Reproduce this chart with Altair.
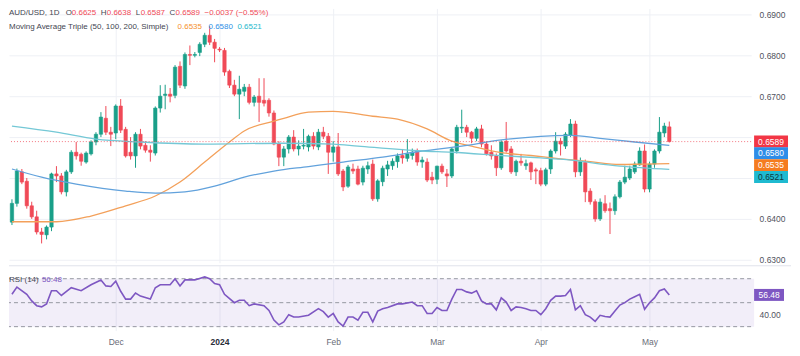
import altair as alt
import pandas as pd

# ---------------- data ----------------
bar_index = list(range(134))  # trading days 2023-11-02 .. 2024-05-07

opens = [0.6392, 0.6438, 0.6515, 0.6492, 0.6432, 0.6405, 0.6368, 0.6361, 0.6380, 0.6510,
         0.6505, 0.6466, 0.6515, 0.6563, 0.6558, 0.6539, 0.6559, 0.6588, 0.6607, 0.6646,
         0.6612, 0.6610, 0.6676, 0.6619, 0.6563, 0.6554, 0.6607, 0.6580, 0.6568, 0.6561,
         0.6671, 0.6702, 0.6705, 0.6702, 0.6773, 0.6725, 0.6802, 0.6800, 0.6807, 0.6827,
         0.6849, 0.6832, 0.6815, 0.6812, 0.6761, 0.6727, 0.6705, 0.6712, 0.6722, 0.6685,
         0.6700, 0.6690, 0.6690, 0.6659, 0.6583, 0.6551, 0.6571, 0.6600, 0.6571, 0.6578,
         0.6576, 0.6602, 0.6576, 0.6612, 0.6602, 0.6563, 0.6576, 0.6517, 0.6480, 0.6522,
         0.6522, 0.6490, 0.6522, 0.6534, 0.6449, 0.6491, 0.6522, 0.6530, 0.6540, 0.6555,
         0.6548, 0.6555, 0.6566, 0.6539, 0.6539, 0.6502, 0.6497, 0.6529, 0.6510, 0.6505,
         0.6566, 0.6622, 0.6624, 0.6612, 0.6597, 0.6620, 0.6583, 0.6563, 0.6554, 0.6525,
         0.6590, 0.6571, 0.6515, 0.6541, 0.6530, 0.6537, 0.6520, 0.6518, 0.6485, 0.6522,
         0.6566, 0.6590, 0.6578, 0.6605, 0.6632, 0.6515, 0.6538, 0.6468, 0.6442, 0.6400,
         0.6437, 0.6425, 0.6420, 0.6454, 0.6490, 0.6500, 0.6515, 0.6532, 0.6566, 0.6473,
         0.6534, 0.6566, 0.6610, 0.6625]
highs = [0.6448, 0.6523, 0.6522, 0.6500, 0.6442, 0.6420, 0.6378, 0.6384, 0.6513, 0.6529,
         0.6512, 0.6520, 0.6568, 0.6588, 0.6562, 0.6565, 0.6592, 0.6612, 0.6661, 0.6676,
         0.6625, 0.6680, 0.6693, 0.6625, 0.6600, 0.6612, 0.6620, 0.6590, 0.6580, 0.6675,
         0.6727, 0.6728, 0.6720, 0.6776, 0.6785, 0.6807, 0.6824, 0.6808, 0.6832, 0.6855,
         0.6871, 0.6840, 0.6820, 0.6818, 0.6765, 0.6740, 0.6750, 0.6730, 0.6730, 0.6703,
         0.6744, 0.6744, 0.6695, 0.6665, 0.6590, 0.6578, 0.6605, 0.6617, 0.6592, 0.6620,
         0.6606, 0.6612, 0.6620, 0.6625, 0.6610, 0.6590, 0.6610, 0.6522, 0.6532, 0.6535,
         0.6530, 0.6530, 0.6540, 0.6545, 0.6497, 0.6530, 0.6542, 0.6548, 0.6560, 0.6571,
         0.6595, 0.6572, 0.6572, 0.6552, 0.6548, 0.6515, 0.6530, 0.6535, 0.6522, 0.6575,
         0.6630, 0.6667, 0.6630, 0.6615, 0.6625, 0.6630, 0.6590, 0.6580, 0.6560, 0.6592,
         0.6637, 0.6578, 0.6545, 0.6559, 0.6545, 0.6540, 0.6525, 0.6525, 0.6525, 0.6570,
         0.6612, 0.6598, 0.6612, 0.6644, 0.6640, 0.6550, 0.6545, 0.6475, 0.6448, 0.6450,
         0.6458, 0.6440, 0.6460, 0.6495, 0.6530, 0.6530, 0.6540, 0.6575, 0.6582, 0.6540,
         0.6570, 0.6649, 0.6635, 0.6638]
lows = [0.6385, 0.6430, 0.6485, 0.6425, 0.6400, 0.6362, 0.6340, 0.6350, 0.6370, 0.6490,
        0.6460, 0.6455, 0.6510, 0.6545, 0.6530, 0.6535, 0.6555, 0.6580, 0.6600, 0.6605,
        0.6578, 0.6595, 0.6610, 0.6550, 0.6545, 0.6525, 0.6570, 0.6562, 0.6540, 0.6555,
        0.6660, 0.6668, 0.6685, 0.6695, 0.6720, 0.6718, 0.6776, 0.6795, 0.6798, 0.6820,
        0.6825, 0.6783, 0.6808, 0.6750, 0.6720, 0.6700, 0.6644, 0.6700, 0.6680, 0.6675,
        0.6637, 0.6675, 0.6650, 0.6580, 0.6529, 0.6529, 0.6560, 0.6565, 0.6555, 0.6570,
        0.6565, 0.6570, 0.6568, 0.6595, 0.6510, 0.6540, 0.6505, 0.6468, 0.6476, 0.6510,
        0.6482, 0.6482, 0.6510, 0.6444, 0.6442, 0.6480, 0.6505, 0.6520, 0.6525, 0.6535,
        0.6540, 0.6545, 0.6530, 0.6525, 0.6490, 0.6485, 0.6485, 0.6510, 0.6478, 0.6500,
        0.6560, 0.6610, 0.6600, 0.6585, 0.6590, 0.6575, 0.6555, 0.6545, 0.6505, 0.6520,
        0.6562, 0.6510, 0.6505, 0.6530, 0.6520, 0.6495, 0.6485, 0.6480, 0.6480, 0.6510,
        0.6560, 0.6555, 0.6571, 0.6600, 0.6502, 0.6505, 0.6441, 0.6435, 0.6393, 0.6395,
        0.6415, 0.6363, 0.6410, 0.6450, 0.6485, 0.6495, 0.6510, 0.6530, 0.6465, 0.6465,
        0.6525, 0.6560, 0.6600, 0.6587]
closes = [0.6438, 0.6517, 0.6490, 0.6432, 0.6405, 0.6368, 0.6362, 0.6380, 0.6510, 0.6505,
          0.6466, 0.6515, 0.6563, 0.6554, 0.6541, 0.6561, 0.6588, 0.6607, 0.6649, 0.6612,
          0.6607, 0.6676, 0.6617, 0.6554, 0.6554, 0.6607, 0.6578, 0.6568, 0.6563, 0.6671,
          0.6700, 0.6705, 0.6700, 0.6771, 0.6727, 0.6802, 0.6800, 0.6802, 0.6827, 0.6849,
          0.6832, 0.6817, 0.6813, 0.6759, 0.6727, 0.6705, 0.6717, 0.6722, 0.6685, 0.6698,
          0.6685, 0.6683, 0.6659, 0.6583, 0.6551, 0.6571, 0.6600, 0.6571, 0.6578, 0.6580,
          0.6602, 0.6578, 0.6612, 0.6602, 0.6563, 0.6576, 0.6510, 0.6478, 0.6527, 0.6517,
          0.6485, 0.6524, 0.6530, 0.6449, 0.6493, 0.6524, 0.6532, 0.6541, 0.6554, 0.6549,
          0.6559, 0.6563, 0.6539, 0.6544, 0.6495, 0.6495, 0.6529, 0.6515, 0.6505, 0.6571,
          0.6624, 0.6624, 0.6612, 0.6597, 0.6620, 0.6583, 0.6559, 0.6554, 0.6525, 0.6588,
          0.6566, 0.6515, 0.6541, 0.6537, 0.6535, 0.6515, 0.6517, 0.6485, 0.6520, 0.6566,
          0.6590, 0.6583, 0.6607, 0.6632, 0.6515, 0.6540, 0.6466, 0.6442, 0.6400, 0.6441,
          0.6420, 0.6420, 0.6454, 0.6490, 0.6502, 0.6522, 0.6534, 0.6566, 0.6473, 0.6534,
          0.6566, 0.6612, 0.6627, 0.6589]

month_tick_index = [21, 42, 65, 86, 107, 129]
month_tick_labels = ["Dec", "2024", "Feb", "Mar", "Apr", "May"]
price_ticks = [0.63, 0.64, 0.65, 0.66, 0.67, 0.68, 0.69]
hidden_price_ticks = [0.65, 0.66]   # covered by the price boxes in the reference

sma50_idx = [0, 9, 16, 23, 29, 34, 39, 44, 47, 53, 55, 60, 65, 73, 78, 84, 89, 93, 99, 105, 111, 117, 123, 128, 133]
sma50_val = [0.6393, 0.6393, 0.6407, 0.6432, 0.6456, 0.6490, 0.6539, 0.6588, 0.6615, 0.6639, 0.6646, 0.6661,
             0.6663, 0.6651, 0.6644, 0.6620, 0.6590, 0.6578, 0.6562, 0.6555, 0.6547, 0.6540, 0.6533, 0.6534, 0.6535]
sma100_idx = [0, 6, 13, 23, 29, 35, 41, 47, 53, 60, 67, 75, 83, 91, 99, 107, 113, 119, 126, 133]
sma100_val = [0.6522, 0.6502, 0.6485, 0.6468, 0.6463, 0.6466, 0.6480, 0.6502, 0.6517, 0.6528, 0.6539, 0.6551,
              0.6566, 0.6578, 0.6593, 0.6602, 0.6604, 0.6597, 0.6588, 0.6580]
sma200_idx = [0, 9, 17, 26, 39, 55, 65, 70, 83, 89, 100, 107, 111, 123, 133]
sma200_val = [0.6627, 0.6612, 0.6595, 0.6588, 0.6583, 0.6585, 0.6583, 0.6578, 0.6566, 0.6563, 0.6554, 0.6549,
              0.6546, 0.6529, 0.6521]

rsi_idx = [0, 1, 3, 4, 5, 6, 7, 8, 9, 10, 12, 14, 16, 18, 19, 20, 21, 22, 23, 24, 25, 26, 28, 29, 30, 32, 33, 34,
           35, 37, 39, 40, 41, 42, 43, 45, 46, 47, 48, 49, 51, 52, 53, 54, 55, 56, 57, 58, 60, 62, 63, 64, 65, 66,
           67, 68, 69, 70, 71, 72, 73, 74, 75, 76, 78, 79, 81, 82, 83, 84, 85, 86, 87, 88, 89, 90, 91, 92, 93, 94,
           95, 96, 97, 98, 99, 100, 101, 102, 103, 104, 105, 106, 107, 108, 109, 110, 111, 112, 113, 114, 115, 116,
           117, 118, 119, 120, 121, 122, 123, 124, 125, 126, 127, 128, 129, 130, 131, 132, 133]
rsi_val = [57, 63, 57, 51.5, 47.5, 46.5, 49, 60, 60, 56, 62.5, 60, 65, 69, 64, 63.5, 68, 59.5, 53, 53, 58, 55.5, 53,
           62.5, 65, 65, 70, 64, 69, 69, 71.5, 70, 66, 65, 57, 50, 52, 52, 47.5, 49, 47.5, 43.5, 35.5, 31.5, 34, 40,
           38, 38, 39.5, 45, 42.5, 38, 41, 34, 30.5, 38, 38, 35.5, 42, 42, 34, 43, 45, 46, 49, 49, 50.5, 47.5, 47.5,
           41, 41, 46, 43.5, 43.5, 53, 61, 61, 59, 58, 60, 51.5, 49, 49, 44, 54, 50.5, 43.5, 46.5, 46, 45, 43.5,
           43.5, 40, 45, 52, 55.5, 55.5, 56, 61, 44, 47.5, 40, 38, 34.5, 39.5, 38.5, 38, 43, 48, 50, 53, 55, 57,
           44.5, 50, 54, 60, 61.5, 56.48]

rsi_levels = [70, 50, 30]
rsi_ticks = [40, 60]
hidden_rsi_ticks = [60]   # covered by the RSI value box in the reference
ohlc_text = ["0.6625", "0.6638", "0.6587", "0.6589"]
change_text = "\u22120.0037 (\u22120.55%)"
ma_last = [0.6535, 0.6580, 0.6521]
rsi_last = 56.48

# ---------------- layout / style ----------------
W = 744
H_MAIN = 255
H_RSI = 65
PX_PER_BAR = 4.955
X0 = -0.6
x_domain = [X0, X0 + W / PX_PER_BAR]
y_domain = [0.62927, 0.69146]
rsi_domain = [26.7, 80.8]

FONT = "Liberation Sans"
UP = "#1a9f89"
DOWN = "#f04a57"
GRID = "#eef0f5"
AXIS_TXT = "#50535e"
MA_LINE = ["#f3a05a", "#62a2dc", "#74c8d6"]
MA_TXT = ["#f5902e", "#2f8fe6", "#22b8cc"]
BOX = ["#f23645", "#2e8de8", "#f57c1f", "#1fbad0"]
BOX_TXT = ["white", "white", "white", "#0c3940"]
BOX_OFFSETS = [0, 8, 1.5, 7.5]
PURPLE = "#7e57c2"

xscale = alt.Scale(domain=x_domain, nice=False, zero=False)
yscale = alt.Scale(domain=y_domain, nice=False, zero=False)
rscale = alt.Scale(domain=rsi_domain, nice=False, zero=False)


def hide_expr(hidden):
    test = " || ".join(f"abs(datum.value - {h}) < 1e-6" for h in hidden)
    return f"({test}) ? '' : datum.label"


x_axis_main = alt.Axis(values=month_tick_index, grid=True, gridColor=GRID, labels=False, ticks=False,
                       domain=False, title=None)
y_axis_main = alt.Axis(orient="right", values=price_ticks, format=".4f", grid=True, gridColor=GRID,
                       labelExpr=hide_expr(hidden_price_ticks),
                       ticks=False, domain=False, labelPadding=8, labelFontSize=8.5, labelColor=AXIS_TXT,
                       title=None)

label_map = "{" + ",".join(f"'{v}':'{t}'" for v, t in zip(month_tick_index, month_tick_labels)) + "}"
x_axis_rsi = alt.Axis(values=month_tick_index, grid=True, gridColor=GRID, ticks=False, domain=False,
                      labelExpr=label_map + "[datum.value + '']", labelFontSize=8.5, labelPadding=7,
                      labelOverlap=False,
                      labelColor={"condition": {"test": "datum.value === 42", "value": "#2a2e39"},
                                  "value": "#6a6d78"},
                      labelFontWeight={"condition": {"test": "datum.value === 42", "value": "bold"},
                                       "value": "normal"},
                      title=None)
y_axis_rsi = alt.Axis(orient="right", values=rsi_ticks, format=".2f", grid=False, ticks=False, domain=False,
                      labelExpr=hide_expr(hidden_rsi_ticks),
                      labelPadding=8, labelFontSize=8.5, labelColor=AXIS_TXT, title=None)

one = pd.DataFrame({"a": [0]})


def txt(x, y, s, color, size=8, weight="normal", align="left"):
    return alt.Chart(one).mark_text(align=align, baseline="middle", fontSize=size, fontWeight=weight,
                                    font=FONT, color=color).encode(
        x=alt.value(x), y=alt.value(y), text=alt.value(s))


# ---------------- main pane ----------------
cdf = pd.DataFrame({"i": bar_index, "o": opens, "h": highs, "l": lows, "c": closes})
cbase = alt.Chart(cdf).transform_calculate(
    dir="datum.c >= datum.o ? 'up' : 'down'", x0="datum.i - 0.34", x1="datum.i + 0.34")
cscale = alt.Scale(domain=["up", "down"], range=[UP, DOWN])

wicks = cbase.mark_rule(strokeWidth=1).encode(
    x=alt.X("i:Q", scale=xscale, axis=x_axis_main),
    y=alt.Y("l:Q", scale=yscale, axis=y_axis_main), y2="h:Q",
    color=alt.Color("dir:N", scale=cscale, legend=None))
bodies = cbase.mark_rect(strokeWidth=0.6).encode(
    x=alt.X("x0:Q", scale=xscale, axis=x_axis_main), x2="x1:Q",
    y=alt.Y("o:Q", scale=yscale, axis=y_axis_main), y2="c:Q",
    color=alt.Color("dir:N", scale=cscale, legend=None),
    stroke=alt.Stroke("dir:N", scale=cscale, legend=None))

ma_layers = []
for (idx, val), col in zip([(sma50_idx, sma50_val), (sma100_idx, sma100_val), (sma200_idx, sma200_val)], MA_LINE):
    ma_layers.append(alt.Chart(pd.DataFrame({"i": idx, "v": val})).mark_line(
        color=col, strokeWidth=1.3, interpolate="monotone").encode(
        x=alt.X("i:Q", scale=xscale, axis=x_axis_main),
        y=alt.Y("v:Q", scale=yscale, axis=y_axis_main)))

price_line = alt.Chart(pd.DataFrame({"p": [closes[-1]]})).mark_rule(
    strokeDash=[1, 2], color=DOWN, strokeWidth=1, opacity=0.75).encode(
    y=alt.Y("p:Q", scale=yscale, axis=y_axis_main))

box_vals = [closes[-1], ma_last[1], ma_last[0], ma_last[2]]
boxes = []
for v, bc, tc, off in zip(box_vals, BOX, BOX_TXT, BOX_OFFSETS):
    d = pd.DataFrame({"p": [v], "t": [f"{v:.4f}"]})
    boxes.append(alt.Chart(d).mark_rect(color=bc, yOffset=off - 6, y2Offset=off + 6).encode(
        x=alt.value(W + 3), x2=alt.value(W + 37),
        y=alt.Y("p:Q", scale=yscale, axis=y_axis_main), y2="p:Q"))
    boxes.append(alt.Chart(d).mark_text(color=tc, fontSize=8.5, font=FONT, yOffset=off,
                                        align="center", baseline="middle").encode(
        x=alt.value(W + 20), y=alt.Y("p:Q", scale=yscale, axis=y_axis_main), text="t:N"))

legend = [
    txt(0, 5, "AUD/USD, 1D", "#434651"),
    txt(57, 5, "O", "#434651"), txt(63, 5, ohlc_text[0], DOWN),
    txt(92, 5, "H", "#434651"), txt(98, 5, ohlc_text[1], DOWN),
    txt(127, 5, "L", "#434651"), txt(132, 5, ohlc_text[2], DOWN),
    txt(161, 5, "C", "#434651"), txt(167, 5, ohlc_text[3], DOWN),
    txt(196, 5, change_text, DOWN),
    txt(0, 19, "Moving Average Triple (50, 100, 200, Simple)", "#434651"),
    txt(169, 19, f"{ma_last[0]:.4f}", MA_TXT[0]),
    txt(200, 19, f"{ma_last[1]:.4f}", MA_TXT[1]),
    txt(229, 19, f"{ma_last[2]:.4f}", MA_TXT[2]),
]

main = alt.layer(wicks, bodies, *ma_layers, price_line, *boxes, *legend).resolve_scale(
    color="independent", stroke="independent").properties(width=W, height=H_MAIN)

# ---------------- RSI pane ----------------
band = alt.Chart(pd.DataFrame({"a": [rsi_levels[0]], "b": [rsi_levels[2]]})).mark_rect(
    color=PURPLE, opacity=0.1).encode(
    x=alt.value(0), x2=alt.value(W + 3),
    y=alt.Y("a:Q", scale=rscale, axis=y_axis_rsi), y2="b:Q")
levels = alt.Chart(pd.DataFrame({"lv": rsi_levels})).mark_rule(
    strokeDash=[4, 3], color="#9598a1", strokeWidth=1).encode(
    y=alt.Y("lv:Q", scale=rscale, axis=y_axis_rsi))
rsi_line = alt.Chart(pd.DataFrame({"i": rsi_idx, "v": rsi_val})).mark_line(
    color=PURPLE, strokeWidth=1.6).encode(
    x=alt.X("i:Q", scale=xscale, axis=x_axis_rsi),
    y=alt.Y("v:Q", scale=rscale, axis=y_axis_rsi))
sep = alt.Chart(one).mark_rule(color="#e0e3eb", strokeWidth=1).encode(
    x=alt.value(0), x2=alt.value(W + 40), y=alt.value(0))
rsi_d = pd.DataFrame({"p": [rsi_last], "t": [f"{rsi_last:.2f}"]})
rsi_box = alt.Chart(rsi_d).mark_rect(color=PURPLE, yOffset=-6, y2Offset=6).encode(
    x=alt.value(W + 3), x2=alt.value(W + 33),
    y=alt.Y("p:Q", scale=rscale, axis=y_axis_rsi), y2="p:Q")
rsi_box_t = alt.Chart(rsi_d).mark_text(color="white", fontSize=8.5, font=FONT, align="center",
                                       baseline="middle").encode(
    x=alt.value(W + 18), y=alt.Y("p:Q", scale=rscale, axis=y_axis_rsi), text="t:N")
rsi_lbl = [txt(0, 14, "RSI (14)", "#434651"), txt(33, 14, f"{rsi_last:.2f}", PURPLE)]

rsi = alt.layer(band, levels, rsi_line, sep, rsi_box, rsi_box_t, *rsi_lbl).properties(width=W, height=H_RSI)

chart = alt.vconcat(main, rsi, spacing=0).resolve_scale(
    x="independent", y="independent", color="independent", stroke="independent").properties(
    padding=0).configure(font=FONT).configure_view(strokeWidth=0)

chart.save("out.html", embed_options={"renderer": "svg", "actions": False})
